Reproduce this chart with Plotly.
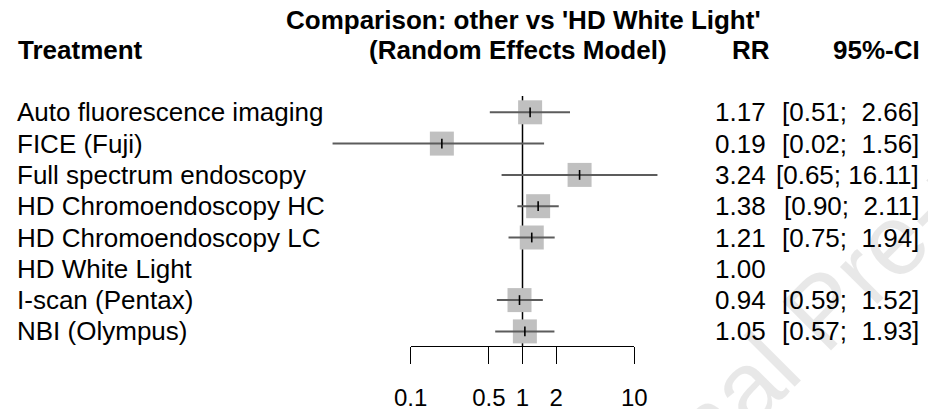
import plotly.graph_objects as go

# ---------------- data ----------------
treatments = ["Auto fluorescence imaging", "FICE (Fuji)", "Full spectrum endoscopy",
              "HD Chromoendoscopy HC", "HD Chromoendoscopy LC", "HD White Light",
              "I-scan (Pentax)", "NBI (Olympus)"]
rr = [1.17, 0.19, 3.24, 1.38, 1.21, 1.00, 0.94, 1.05]
ci_lower = [0.51, 0.02, 0.65, 0.90, 0.75, None, 0.59, 0.57]
ci_upper = [2.66, 1.56, 16.11, 2.11, 1.94, None, 1.52, 1.93]
tick_vals = [0.1, 0.5, 1, 2, 10]
tick_text = ["0.1", "0.5", "1", "2", "10"]
ref_value = 1
title_line1 = "Comparison: other vs 'HD White Light'"
title_line2 = "(Random Effects Model)"

W, H = 928, 409
FONT = "Liberation Sans, Arial, sans-serif"

rows = list(range(len(treatments)))

fig = go.Figure()

# boxes (skip reference row, which has no CI)
bx = [r for r, lo in zip(rr, ci_lower) if lo is not None]
by = [i for i, lo in zip(rows, ci_lower) if lo is not None]
fig.add_trace(go.Scatter(x=bx, y=by, mode="markers",
                         marker=dict(symbol="square", size=24, color="#C0C0C0",
                                     line=dict(width=0)),
                         hoverinfo="skip", showlegend=False))

# CI lines
lx, ly = [], []
for i, lo, hi in zip(rows, ci_lower, ci_upper):
    if lo is None:
        continue
    lx += [lo, hi, None]
    ly += [i, i, None]
fig.add_trace(go.Scatter(x=lx, y=ly, mode="lines",
                         line=dict(color="#5c5c5c", width=2),
                         hoverinfo="skip", showlegend=False))

# estimate ticks
fig.add_trace(go.Scatter(x=bx, y=by, mode="markers",
                         marker=dict(symbol="line-ns", size=7,
                                     line=dict(width=1.6, color="black")),
                         hoverinfo="skip", showlegend=False))

# helper trace for the visible axis
fig.add_trace(go.Scatter(x=[ref_value], y=[None], xaxis="x2", yaxis="y",
                         mode="markers", hoverinfo="skip", showlegend=False))

# reference line
fig.add_shape(type="line", xref="x", yref="y domain", x0=ref_value, x1=ref_value,
              y0=0, y1=1, line=dict(color="black", width=1.5), layer="below")

px_per_dec = (634.3 - 410.7) / 2.0
r0 = -1 - 410.7 / px_per_dec
r1 = r0 + W / px_per_dec

row0_px, row_step = 112.3, 31.3
y_top = (96 - row0_px) / row_step
y_bot = (346 - row0_px) / row_step

annotations = []
# faint watermark (drawn first so everything else sits above)
annotations.append(dict(text="Journal Pre-proof", xref="paper", yref="paper",
                        x=822 / W, y=1 - 310 / H, showarrow=False, textangle=-45,
                        font=dict(family=FONT, size=100, color="rgba(0,0,0,0.09)"),
                        xanchor="center", yanchor="middle"))

TXT = dict(family=FONT, size=26, color="black")
for i, name, r, lo, hi in zip(rows, treatments, rr, ci_lower, ci_upper):
    annotations.append(dict(text=name, xref="paper", yref="y", x=15 / W, y=i,
                            xanchor="left", yanchor="middle", showarrow=False, font=TXT))
    annotations.append(dict(text=f"{r:.2f}", xref="paper", yref="y", x=768 / W, y=i,
                            xanchor="right", yanchor="middle", showarrow=False, font=TXT))
    if lo is not None:
        s = f"[{lo:.2f}; {hi:5.2f}]".replace(" ", "\u00a0")
        annotations.append(dict(text=s, xref="paper", yref="y", x=921 / W, y=i,
                                xanchor="right", yanchor="middle", showarrow=False, font=TXT))

hdr = dict(family=FONT, size=26, color="black")
annotations += [
    dict(text="<b>" + title_line1 + "</b>", xref="paper", yref="paper", x=523 / W, y=1 - 20 / H,
         xanchor="center", yanchor="middle", showarrow=False, font=hdr),
    dict(text="<b>Treatment</b>", xref="paper", yref="paper", x=16 / W, y=1 - 50 / H,
         xanchor="left", yanchor="middle", showarrow=False, font=hdr),
    dict(text="<b>" + title_line2 + "</b>", xref="paper", yref="paper", x=669 / W, y=1 - 50 / H,
         xanchor="right", yanchor="middle", showarrow=False, font=hdr),
    dict(text="<b>RR</b>", xref="paper", yref="paper", x=772 / W, y=1 - 50 / H,
         xanchor="right", yanchor="middle", showarrow=False, font=hdr),
    dict(text="<b>95%-CI</b>", xref="paper", yref="paper", x=922 / W, y=1 - 50 / H,
         xanchor="right", yanchor="middle", showarrow=False, font=hdr),
]

fig.update_layout(
    width=W, height=H, margin=dict(l=0, r=0, t=0, b=0, pad=0, autoexpand=False),
    paper_bgcolor="white", plot_bgcolor="rgba(0,0,0,0)",
    showlegend=False,
    xaxis=dict(type="log", range=[r0, r1], domain=[0, 1], visible=False, fixedrange=True),
    xaxis2=dict(type="log", range=[-1, 1], domain=[410.7 / W, 634.3 / W], anchor="y",
                showline=True, linecolor="black", linewidth=1.3,
                ticks="outside", ticklen=17, tickwidth=1.3, tickcolor="black",
                tickvals=tick_vals, ticktext=tick_text, showgrid=False, zeroline=False,
                ticklabelstandoff=13, automargin=False, fixedrange=True,
                tickfont=dict(family=FONT, size=24, color="black")),
    yaxis=dict(range=[y_bot, y_top], domain=[1 - 346 / H, 1 - 96 / H], visible=False,
               fixedrange=True),
    annotations=annotations,
)

fig.write_html("out.html", config={"displayModeBar": False},
               post_script="document.body.style.margin='0';document.body.style.overflow='hidden';")
